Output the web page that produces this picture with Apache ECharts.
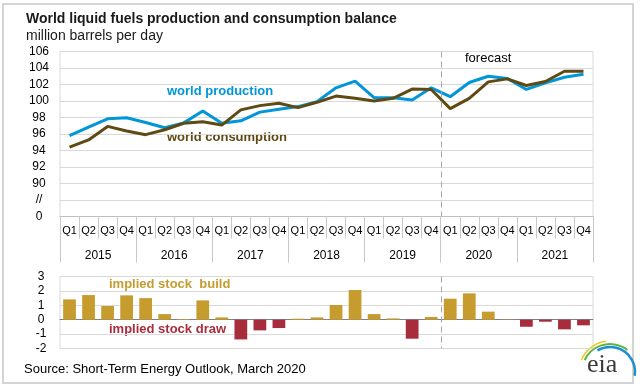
<!DOCTYPE html>
<html>
<head>
<meta charset="utf-8">
<script src="https://cdn.jsdelivr.net/npm/echarts@6/dist/echarts.min.js"></script>
<style>
html,body{margin:0;padding:0;background:#fff;}
#chart{width:640px;height:386px;}
</style>
</head>
<body>
<div id="chart"></div>
<script>
// ---- data ----
var years = ["2015", "2016", "2017", "2018", "2019", "2020", "2021"];
var quarterNames = ["Q1", "Q2", "Q3", "Q4"];
var quarters = [];
years.forEach(function () { quarterNames.forEach(function (q) { quarters.push(q); }); });

var production = [95.8, 96.84, 97.84, 97.96, 97.4, 96.76, 97.35, 98.8, 97.3, 97.6, 98.65, 99.0, 99.32, 99.92, 101.6, 102.4, 100.4, 100.4, 100.12, 101.6, 100.52, 102.24, 103.0, 102.72, 101.4, 102.2, 102.88, 103.24];
var consumption = [94.4, 95.28, 96.92, 96.36, 95.92, 96.52, 97.3, 97.48, 97.08, 98.92, 99.44, 99.72, 99.2, 99.84, 100.6, 100.32, 100.0, 100.32, 101.44, 101.4, 99.08, 100.32, 102.32, 102.68, 101.88, 102.36, 103.6, 103.6];
var stockChange = [1.41, 1.71, 0.95, 1.69, 1.5, 0.39, 0.05, 1.34, 0.16, -1.37, -0.74, -0.58, 0.07, 0.16, 1.02, 2.06, 0.39, 0.09, -1.32, 0.19, 1.46, 1.83, 0.56, 0.02, -0.49, -0.14, -0.67, -0.39];
var topTicks = {86: "0", 88: "//"};
var forecastStartIndex = 20;

// ---- styles ----
var FONT = "'Liberation Sans', Arial, sans-serif";
var BLUE = "#0096d7";
var BROWN = "#5e4a12";
var GOLD = "#c69c2e";
var RED = "#a82d3c";
var GRID = "#d9d9d9";

var chart = echarts.init(document.getElementById('chart'), null, {renderer: 'canvas'});

var option = {
  backgroundColor: '#ffffff',
  animation: false,
  textStyle: {fontFamily: FONT},
  grid: [
    {left: 60, top: 51.5, width: 533, height: 165, show: true, borderColor: GRID, borderWidth: 1, containLabel: false},
    {left: 60, top: 276.5, width: 533, height: 72, show: true, borderColor: GRID, borderWidth: 1, containLabel: false}
  ],
  xAxis: [
    {
      gridIndex: 0, type: 'category', data: quarters, position: 'bottom',
      axisLine: {onZero: false, lineStyle: {color: '#bfbfbf', width: 1}},
      axisTick: {show: true, interval: 0, length: 22, lineStyle: {color: '#c8c8c8'}},
      axisLabel: {interval: 0, margin: 9, fontSize: 11, color: '#000', fontFamily: FONT},
      splitLine: {show: false}
    },
    {
      gridIndex: 0, type: 'category', data: years, position: 'bottom',
      axisLine: {show: false, onZero: false},
      axisTick: {show: true, interval: 0, length: 46, lineStyle: {color: '#c8c8c8'}},
      axisLabel: {interval: 0, margin: 33, fontSize: 12, color: '#000', fontFamily: FONT},
      splitLine: {show: false}
    },
    {
      gridIndex: 1, type: 'category', data: quarters,
      axisLine: {onZero: true, lineStyle: {color: '#808080', width: 1}},
      axisTick: {show: false},
      axisLabel: {show: false},
      splitLine: {show: false}
    }
  ],
  yAxis: [
    {
      gridIndex: 0, type: 'value', min: 86, max: 106, interval: 2,
      axisLine: {show: false}, axisTick: {show: false},
      splitLine: {lineStyle: {color: GRID, width: 1}},
      axisLabel: {
        margin: 21, align: 'center', fontSize: 12, color: '#000', fontFamily: FONT,
        formatter: function (v) { return topTicks[v] !== undefined ? topTicks[v] : String(v); }
      }
    },
    {
      gridIndex: 1, type: 'value', min: -2, max: 3, interval: 1,
      axisLine: {show: false}, axisTick: {show: false},
      splitLine: {lineStyle: {color: GRID, width: 1}},
      axisLabel: {margin: 19, align: 'center', fontSize: 12, color: '#000', fontFamily: FONT}
    }
  ],
  series: [
    {
      name: 'world production', type: 'line', xAxisIndex: 0, yAxisIndex: 0,
      data: production, symbol: 'none', lineStyle: {color: BLUE, width: 3}, itemStyle: {color: BLUE}, z: 3
    },
    {
      name: 'world consumption', type: 'line', xAxisIndex: 0, yAxisIndex: 0,
      data: consumption, symbol: 'none', lineStyle: {color: BROWN, width: 3}, itemStyle: {color: BROWN}, z: 4
    },
    {
      name: 'implied stock change', type: 'bar', xAxisIndex: 2, yAxisIndex: 1,
      data: stockChange, barCategoryGap: '33%',
      itemStyle: {color: function (p) { return p.value >= 0 ? GOLD : RED; }}
    }
  ],
  graphic: [
    {type: 'rect', id: 'frame', shape: {x: 3, y: 4, width: 630, height: 379}, style: {fill: 'none', stroke: '#d4d4d4', lineWidth: 2}, z: 0, silent: true},
    {type: 'text', id: 'title', left: 26, top: 12, style: {text: 'World liquid fuels production and consumption balance', fontSize: 14, fontWeight: 'bold', fill: '#1a1a1a', font: 'bold 14px ' + FONT}},
    {type: 'text', id: 'subtitle', left: 26, top: 29, style: {text: 'million barrels per day', fill: '#1a1a1a', font: '14px ' + FONT}},
    {type: 'text', id: 'lblProd', left: 167, top: 85, style: {text: 'world production', fill: BLUE, font: 'bold 13px ' + FONT}},
    {type: 'text', id: 'lblCons', left: 167, top: 131, style: {text: 'world consumption', fill: BROWN, font: 'bold 13px ' + FONT}},
    {type: 'text', id: 'forecast', left: 465, top: 52, style: {text: 'forecast', fill: '#000', font: '13px ' + FONT}},
    {type: 'text', id: 'lblBuild', left: 109, top: 278, style: {text: 'implied stock  build', fill: GOLD, font: 'bold 13px ' + FONT}},
    {type: 'text', id: 'lblDraw', left: 109, top: 323, style: {text: 'implied stock draw', fill: RED, font: 'bold 13px ' + FONT}},
    {type: 'text', id: 'source', left: 24, top: 363, style: {text: 'Source: Short-Term Energy Outlook, March 2020', fill: '#000', font: '13px ' + FONT}},
    {type: 'arc', id: 'logoY', shape: {cx: 610, cy: 372, r: 31, startAngle: -2.75, endAngle: -1.7}, style: {stroke: '#f2c81e', lineWidth: 1.5, fill: 'none'}},
    {type: 'arc', id: 'logoG', shape: {cx: 610, cy: 372, r: 28, startAngle: -2.7, endAngle: -0.9}, style: {stroke: '#5db347', lineWidth: 2, fill: 'none'}},
    {type: 'arc', id: 'logoB', shape: {cx: 610, cy: 372, r: 25, startAngle: -2.1, endAngle: 0.15}, style: {stroke: '#1c8fd0', lineWidth: 2.5, fill: 'none'}},
    {type: 'text', id: 'logoT', left: 587, top: 352, style: {text: 'eia', fill: '#3a3a3a', font: '26px "Liberation Serif", "DejaVu Serif", serif'}}
  ]
};

chart.setOption(option);

// dashed forecast divider, placed via the axis scale
var xa = chart.convertToPixel({xAxisIndex: 0}, forecastStartIndex - 1);
var xb = chart.convertToPixel({xAxisIndex: 0}, forecastStartIndex);
var xd = Math.round((xa + xb) / 2) + 0.5;
var yTop0 = chart.convertToPixel({yAxisIndex: 0}, 106);
var yBot0 = chart.convertToPixel({yAxisIndex: 0}, 86);
var yTop1 = chart.convertToPixel({yAxisIndex: 1}, 3);
var yBot1 = chart.convertToPixel({yAxisIndex: 1}, -2);
chart.setOption({
  graphic: [
    {type: 'line', id: 'div0', shape: {x1: xd, y1: yTop0, x2: xd, y2: yBot0}, style: {stroke: '#a6a6a6', lineWidth: 1, lineDash: [6, 4]}, z: 10},
    {type: 'line', id: 'div1', shape: {x1: xd, y1: yTop1, x2: xd, y2: yBot1}, style: {stroke: '#a6a6a6', lineWidth: 1, lineDash: [6, 4]}, z: 10}
  ]
});
</script>
</body>
</html>
